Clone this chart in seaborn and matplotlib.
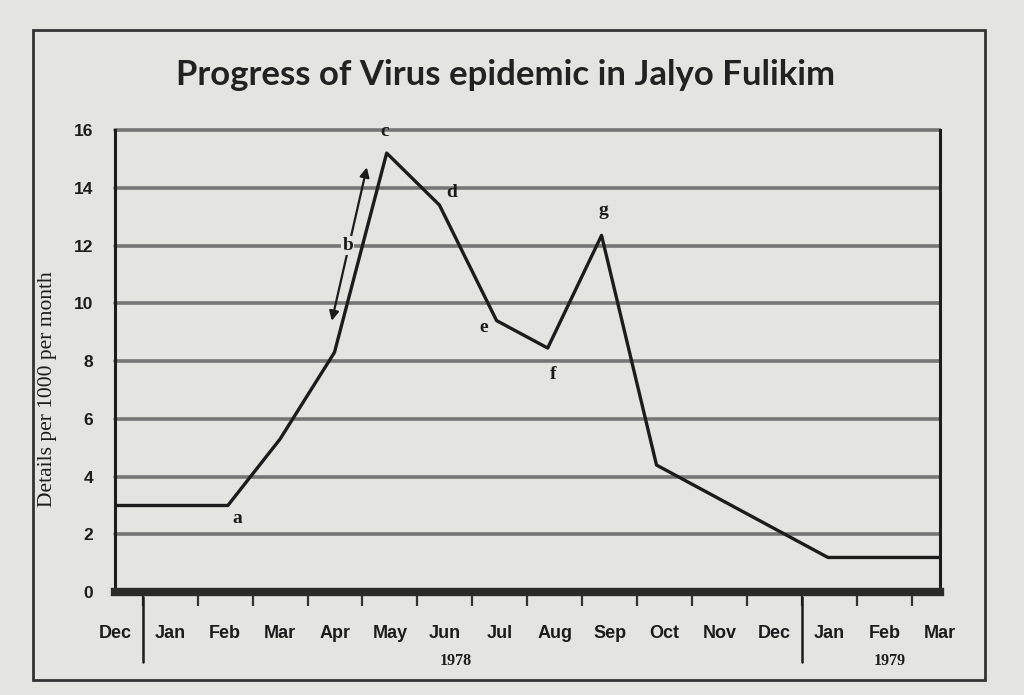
import matplotlib
matplotlib.use("Agg")
import matplotlib.pyplot as plt
import matplotlib.patches as mpatches
import matplotlib.transforms as mtrans
import seaborn as sns
import pandas as pd

# ---- data ----
month_labels = ["Dec", "Jan", "Feb", "Mar", "Apr", "May", "Jun", "Jul",
                "Aug", "Sep", "Oct", "Nov", "Dec", "Jan", "Feb", "Mar"]
time_months = [0, 2.05, 3.0, 3.99, 4.94, 5.9, 6.94, 7.87, 8.85, 9.85, 12.97, 15]
deaths = [3.0, 3.0, 5.3, 8.3, 15.2, 13.4, 9.4, 8.45, 12.35, 4.4, 1.2, 1.2]
y_ticks = [0, 2, 4, 6, 8, 10, 12, 14, 16]
point_letters = ["a", "c", "d", "e", "f", "g"]
letter_x = [2.22, 4.9, 6.12, 6.7, 7.96, 8.89]
letter_y = [2.55, 15.95, 13.85, 9.15, 7.55, 13.2]
year_labels = ["1978", "1979"]
year_x = [6.2, 14.1]
title = "Progress of Virus epidemic in Jalyo Fulikim"
y_label = "Details per 1000 per month"

BG = "#e4e4e1"
INK = "#1c1c1c"

sns.set_style("white")
plt.rcParams["font.family"] = ["DejaVu Sans"]

fig = plt.figure(figsize=(10.24, 6.95), dpi=100, facecolor=BG)
ax = fig.add_axes([0.1125, 0.148, 0.805, 0.665])
ax.set_facecolor(BG)

df = pd.DataFrame({"t": time_months, "v": deaths})

# gridlines
for yv in y_ticks[1:]:
    ax.axhline(yv, color="#767676", lw=2.6, zorder=1, clip_on=False)

sns.lineplot(data=df, x="t", y="v", ax=ax, color=INK, lw=2.4, zorder=3,
             sort=False, estimator=None)

ax.set_xlim(0, 15)
ax.set_ylim(0, 16)
ax.set_xlabel("")
ax.set_ylabel("")

# spines
ax.spines["top"].set_visible(False)
for s in ["left", "right"]:
    ax.spines[s].set_color(INK)
    ax.spines[s].set_linewidth(2.2)
ax.spines["bottom"].set_color("#2a2a2a")
ax.spines["bottom"].set_linewidth(6)

# ticks
narrow = ["Liberation Sans Narrow", "Liberation Sans", "DejaVu Sans"]
ax.set_xticks(range(len(month_labels)))
ax.set_xticklabels(month_labels, fontsize=13, fontweight="bold", family=narrow,
                   color=INK)
ax.set_xticks([i + 0.5 for i in range(15)], minor=True)
ax.tick_params(axis="x", which="major", bottom=True, length=0, pad=24)
ax.tick_params(axis="x", which="minor", bottom=True, length=10, width=1.6,
               color="#333333", direction="out")
ax.set_yticks(y_ticks)
ax.set_yticklabels([str(v) for v in y_ticks], fontsize=12.5, fontweight="bold",
                   family=narrow, color=INK)
ax.tick_params(axis="y", length=0, pad=16)

trans = mtrans.blended_transform_factory(ax.transData, ax.transAxes)
# long separators between years
for xs in [0.5, 12.5]:
    ax.plot([xs, xs], [-0.01, -0.152], transform=trans, color=INK, lw=1.8,
            clip_on=False)
# year labels
for lab, xv in zip(year_labels, year_x):
    ax.text(xv, -0.148, lab, transform=trans, ha="center", va="center",
            fontsize=11.5, fontweight="bold", family=["Liberation Serif", "DejaVu Serif"],
            color=INK)

# point letters
for lab, xv, yv in zip(point_letters, letter_x, letter_y):
    ax.text(xv, yv, lab, ha="center", va="center", fontsize=14, fontweight="bold",
            family=["Liberation Serif", "DejaVu Serif"], color=INK, zorder=4)

# double-headed arrow with b
ax.annotate("", xy=(4.59, 14.8), xytext=(3.93, 9.3),
            arrowprops=dict(arrowstyle="<|-|>", color=INK, lw=1.6,
                            mutation_scale=14), zorder=4)
ax.text(4.23, 12.0, "b", ha="center", va="center", fontsize=14, fontweight="bold",
        family=["Liberation Serif", "DejaVu Serif"], color=INK, zorder=5,
        bbox=dict(facecolor=BG, edgecolor="none", pad=1))

# y label
fig.text(0.046, 0.44, y_label, rotation=90, ha="center", va="center",
         fontsize=15.5, family=["Liberation Serif", "DejaVu Serif"], color=INK)

# title
fig.text(0.494, 0.892, title, ha="center", va="center", fontsize=25,
         fontweight="bold", family=["Lato", "DejaVu Sans"], color="#222222")

# outer frame
fig.patches.append(mpatches.Rectangle((0.032, 0.022), 0.93, 0.935,
                                      transform=fig.transFigure, fill=False,
                                      edgecolor="#333333", lw=2))

fig.savefig("out.png", dpi=100, facecolor=BG)
